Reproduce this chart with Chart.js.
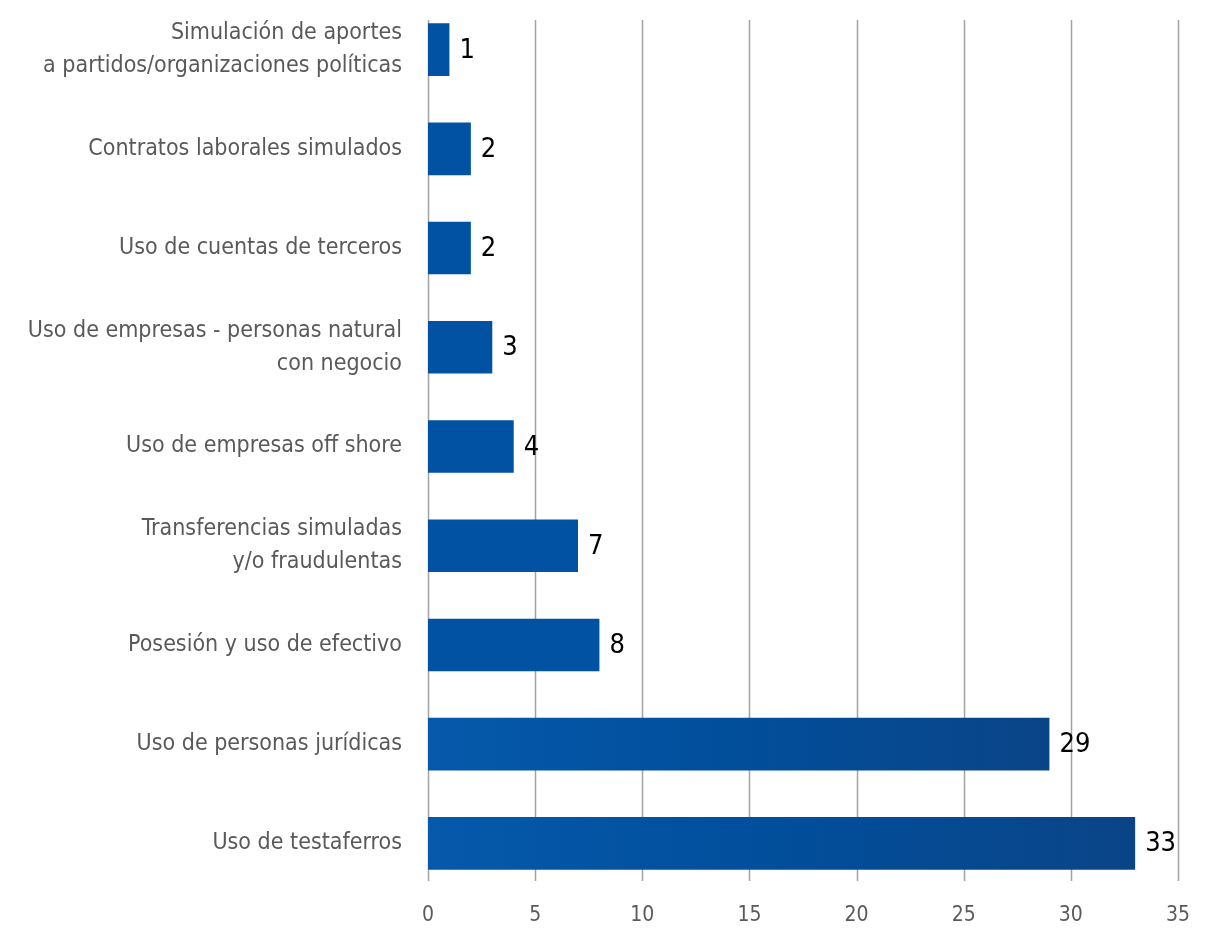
<!DOCTYPE html>
<html>
<head>
<meta charset="utf-8">
<script src="https://cdn.jsdelivr.net/npm/chart.js@4"></script>
<style>
  html, body { margin: 0; padding: 0; background: #ffffff; }
  #wrap { width: 1211px; height: 929px; }
</style>
</head>
<body>
<div id="wrap"><canvas id="c" width="1211" height="929"></canvas></div>
<script>
const categories = [
  ["Simulación de aportes", "a partidos/organizaciones políticas"],
  "Contratos laborales simulados",
  "Uso de cuentas de terceros",
  ["Uso de empresas - personas natural", "con negocio"],
  "Uso de empresas off shore",
  ["Transferencias simuladas", "y/o fraudulentas"],
  "Posesión y uso de efectivo",
  "Uso de personas jurídicas",
  "Uso de testaferros"
];
const values = [1, 2, 2, 3, 4, 7, 8, 29, 33];
const xTicks = [0, 5, 10, 15, 20, 25, 30, 35];

const FONT = "'DejaVu Sans Condensed', 'Liberation Sans Narrow', 'Roboto Condensed', sans-serif";

function barGradient(context) {
  const chart = context.chart;
  const area = chart.chartArea;
  const v = context.raw;
  if (!area || v < 15) return '#0252a3';
  const xs = chart.scales.x;
  const x0 = xs.getPixelForValue(0);
  const x1 = xs.getPixelForValue(v);
  if (!isFinite(x0) || !isFinite(x1) || x1 - x0 < 1) return '#0252a3';
  const g = chart.ctx.createLinearGradient(x0, 0, x1, 0);
  g.addColorStop(0, '#0659ab');
  g.addColorStop(0.45, '#014f9d');
  g.addColorStop(1, '#0a4487');
  return g;
}

const gridPlugin = {
  id: 'customGrid',
  beforeDatasetsDraw(chart) {
    const ctx = chart.ctx;
    const xs = chart.scales.x;
    const a = chart.chartArea;
    ctx.save();
    ctx.strokeStyle = '#a3a3a3';
    ctx.lineWidth = 1.5;
    xTicks.forEach(t => {
      const px = Math.round(xs.getPixelForValue(t)) + 0.5;
      ctx.beginPath();
      ctx.moveTo(px, a.top + 20);
      ctx.lineTo(px, a.bottom - 12);
      ctx.stroke();
    });
    ctx.restore();
  }
};

const labelPlugin = {
  id: 'valueLabels',
  afterDatasetsDraw(chart) {
    const ctx = chart.ctx;
    const meta = chart.getDatasetMeta(0);
    ctx.save();
    ctx.fillStyle = '#000000';
    ctx.font = '27px ' + FONT;
    ctx.textAlign = 'left';
    ctx.textBaseline = 'middle';
    meta.data.forEach((el, i) => {
      ctx.fillText(String(values[i]), el.x + 10, el.y + 1);
    });
    ctx.restore();
  }
};

new Chart(document.getElementById('c'), {
  type: 'bar',
  data: {
    labels: categories,
    datasets: [{
      data: values,
      backgroundColor: barGradient,
      borderWidth: 0,
      barPercentage: 0.53,
      categoryPercentage: 1.0
    }]
  },
  options: {
    indexAxis: 'y',
    responsive: false,
    animation: false,
    devicePixelRatio: 1,
    layout: { padding: { top: 0, right: 33, bottom: 0, left: 0 } },
    plugins: {
      legend: { display: false },
      tooltip: { enabled: false }
    },
    scales: {
      x: {
        min: 0,
        max: 35,
        afterBuildTicks(scale) { scale.ticks = xTicks.map(v => ({ value: v })); },
        afterFit(scale) { scale.height = 36; scale.paddingLeft = 0; scale.paddingRight = 0; },
        grid: { display: false, drawTicks: false },
        border: { display: false },
        ticks: {
          color: '#5a5a5a',
          font: { family: FONT, size: 21 },
          padding: 10,
          maxRotation: 0
        }
      },
      y: {
        grid: { display: false, drawTicks: false },
        border: { display: false },
        afterFit(scale) { scale.width = 428; scale.paddingTop = 0; scale.paddingBottom = 0; },
        ticks: {
          color: '#595959',
          font: { family: FONT, size: 23, lineHeight: 1.42 },
          padding: 26,
          autoSkip: false
        }
      }
    }
  },
  plugins: [gridPlugin, labelPlugin]
});
</script>
</body>
</html>
